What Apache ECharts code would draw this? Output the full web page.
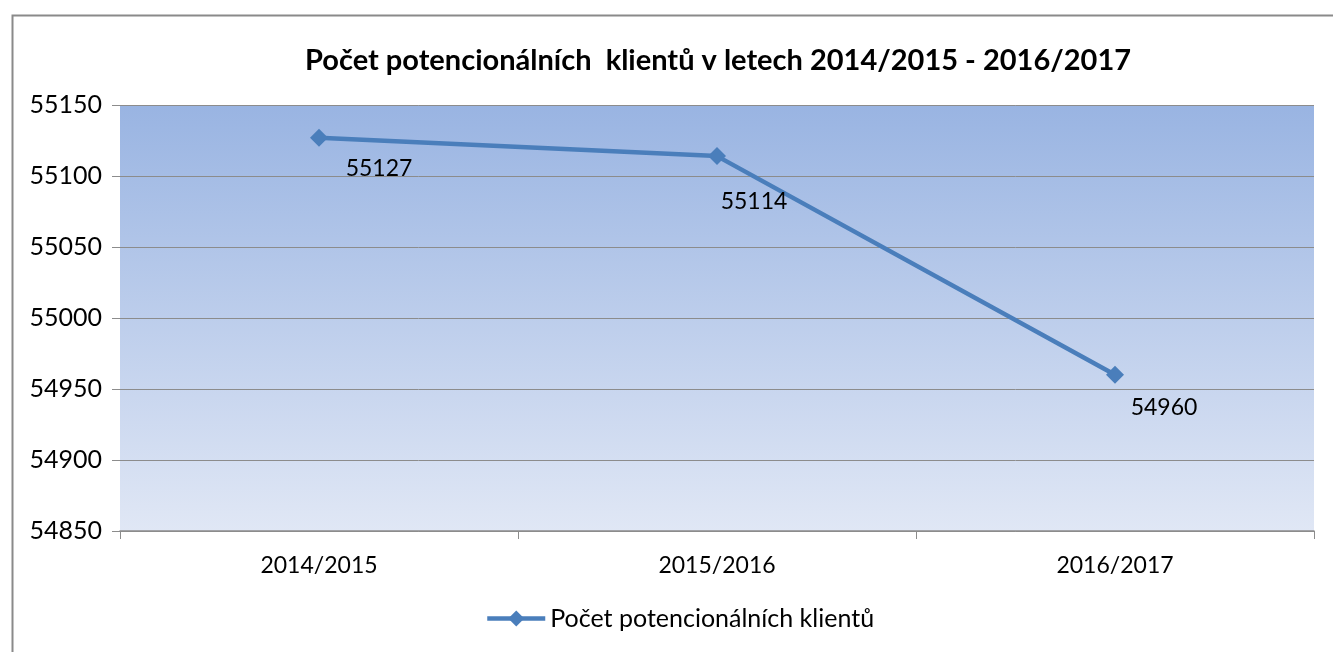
<!DOCTYPE html>
<html>
<head>
<meta charset="utf-8">
<script src="https://cdn.jsdelivr.net/npm/echarts@6/dist/echarts.min.js"></script>
<style>
  html, body { margin: 0; padding: 0; background: #fff; }
  #chart { width: 1333px; height: 652px; }
</style>
</head>
<body>
<div id="chart"></div>
<script>
  // data
  var years = ['2014/2015', '2015/2016', '2016/2017']
  var clients = [55127, 55114, 54960]
  var seriesName = 'Počet potencionálních klientů'
  var titleText = 'Počet potencionálních  klientů v letech 2014/2015 - 2016/2017'

  // label nudges, like the auto placement in the original
  var labelNudge = [[60, 5], [37, 20], [49, 7]]

  var font = 'Lato, "Open Sans", sans-serif'
  var myChart = echarts.init(document.getElementById('chart'))

  var points = clients.map(function (v, i) {
    return { value: v, label: { offset: labelNudge[i] } }
  })

  myChart.setOption({
    animation: false,
    backgroundColor: '#fff',
    textStyle: { fontFamily: font },
    graphic: [{
      // outer frame of the chart, only left and top edges visible
      type: 'rect',
      left: 10, top: 13,
      shape: { width: 1400, height: 700 },
      style: { fill: 'none', stroke: '#8a8a8a', lineWidth: 2 },
      silent: true
    }],
    title: {
      text: titleText,
      left: 305,
      top: 46,
      padding: 0,
      textStyle: { fontFamily: font, fontSize: 29, fontWeight: 'bold', color: '#000' }
    },
    legend: {
      bottom: 16,
      left: 480,
      itemWidth: 58,
      itemHeight: 20,
      itemGap: 0,
      lineStyle: { width: 4.5 },
      textStyle: { fontFamily: font, fontSize: 25, color: '#000' },
      data: [seriesName]
    },
    grid: {
      left: 120, right: 19, top: 105, bottom: 121,
      show: true,
      borderWidth: 0,
      backgroundColor: new echarts.graphic.LinearGradient(0, 0, 0, 1, [
        { offset: 0, color: '#99b4e2' },
        { offset: 1, color: '#e0e7f5' }
      ])
    },
    xAxis: {
      type: 'category',
      data: years,
      boundaryGap: true,
      axisLine: { lineStyle: { color: '#8c8c8c', width: 1.5 } },
      axisTick: { show: true, length: 8, lineStyle: { color: '#8c8c8c' } },
      axisLabel: { fontFamily: font, fontSize: 23, color: '#000', margin: 23 }
    },
    yAxis: {
      type: 'value',
      min: 54850,
      max: 55150,
      interval: 50,
      axisLine: { show: false },
      axisTick: { show: true, length: 8, lineStyle: { color: '#8c8c8c' } },
      axisLabel: {
        fontFamily: font, fontSize: 25, color: '#000', margin: 18,
        formatter: function (v) { return String(v) }
      },
      splitLine: { lineStyle: { color: '#8c8c8c', width: 1 } }
    },
    series: [{
      name: seriesName,
      type: 'line',
      data: points,
      symbol: 'diamond',
      symbolSize: 18,
      lineStyle: { color: '#4a7ebb', width: 4.5 },
      itemStyle: { color: '#4a7ebb' },
      label: {
        show: true,
        position: 'bottom',
        fontFamily: font,
        fontSize: 23,
        color: '#000'
      }
    }]
  })
</script>
</body>
</html>
